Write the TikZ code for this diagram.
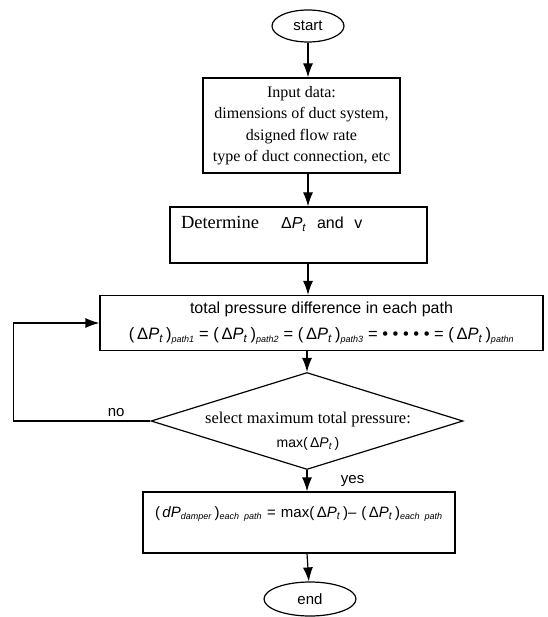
\documentclass[tikz,border=0pt]{standalone}
\usepackage{fontspec}
\setmainfont{Liberation Serif}
\setsansfont{Liberation Sans}
\usetikzlibrary{arrows.meta}
\usetikzlibrary{shapes.geometric}
\usetikzlibrary{positioning}
\tikzset{>={Latex[length=14pt,width=10pt]}}
\tikzstyle{box} = [rectangle, draw, line width=1.2pt, inner sep=0pt]
\tikzstyle{term} = [ellipse, draw, line width=1.2pt, inner sep=0pt, font=\sffamily\fontsize{15}{17}\selectfont]
\tikzstyle{serif} = [font=\rmfamily\fontsize{16}{21.5}\selectfont]
\tikzstyle{sans} = [font=\sffamily\fontsize{15}{26}\selectfont]
\tikzstyle{flow} = [->, line width=1.2pt]
\newcommand{\dP}{Δ\textit{P}\textsubscript{\textit{t}}}
\newcommand{\dPt}{(\,\dP\,)}
\newcommand{\pth}[1]{\textsubscript{\fontsize{9}{9}\selectfont\textit{#1}}}

\begin{document}
\begin{tikzpicture}[x=1pt, y=-1pt]
\useasboundingbox (0,0) rectangle (547,617);
\node [term, minimum width=72pt, minimum height=32pt] (start) at (308,26) {start};
\node [box, serif, align=center, minimum width=197pt, minimum height=95pt] (input) at (301.5,125.5)
  {Input data:\\ dimensions of duct system,\\ dsigned flow rate\\ type of duct connection, etc};
\node [box, serif, text width=241pt, align=left, inner xsep=8pt, text height=22pt, text depth=34pt] (determine) at (298.5,235)
  {\hspace{3pt}{\fontsize{18.5}{21}\selectfont Determine}\hspace{22pt}{\sffamily\fontsize{16}{18}\selectfont\dP\ \ and\ \ v}};
\node [box, sans, align=center, minimum width=443pt, minimum height=55pt] (total) at (321.5,323)
  {{\fontsize{16}{26}\selectfont total pressure difference in each path}\\
   {\fontsize{16.5}{18}\selectfont \dPt\pth{path1} = \dPt\pth{path2} = \dPt\pth{path3} = \textbullet\ \textbullet\ \textbullet\ \textbullet\ \textbullet{} = \dPt\pth{pathn}}};
\node [draw, line width=1.2pt, diamond, inner sep=0pt, minimum width=312pt, minimum height=97pt] (select) at (307,421) {};
\node [serif, align=center] (seltext) at (308,431) {{\fontsize{16.5}{18}\selectfont select maximum total pressure:}\\[3pt] {\sffamily\fontsize{14}{16}\selectfont max\dPt}};
\node [box, sans, text width=288pt, align=left, inner xsep=12pt, text height=25pt, text depth=36pt] (damper) at (299,522.5)
  {\mbox{\fontsize{15}{18}\selectfont (\,\textit{dP}\pth{damper}\,)\pth{each path} = max\dPt– \dPt\pth{each path}}};
\node [term, minimum width=92pt, minimum height=34pt] (finish) at (310,599) {end};

\draw [flow] (start) -- (start |- input.north);
\draw [flow] (start |- input.south) -- (start |- determine.north);
\draw [flow] (start |- determine.south) -- (start |- total.north);
\draw [flow] (select |- total.south) -- (select.north);
\draw [flow] (select.south) -- node[sans, anchor=west, xshift=30pt] {yes} (select |- damper.north);
\draw [flow] (select |- damper.south) -- (finish);
\draw [flow] (select.west) -- node[sans, above, pos=0.25] {no} ++(-137,0) |- (total.west);
\end{tikzpicture}
\end{document}
